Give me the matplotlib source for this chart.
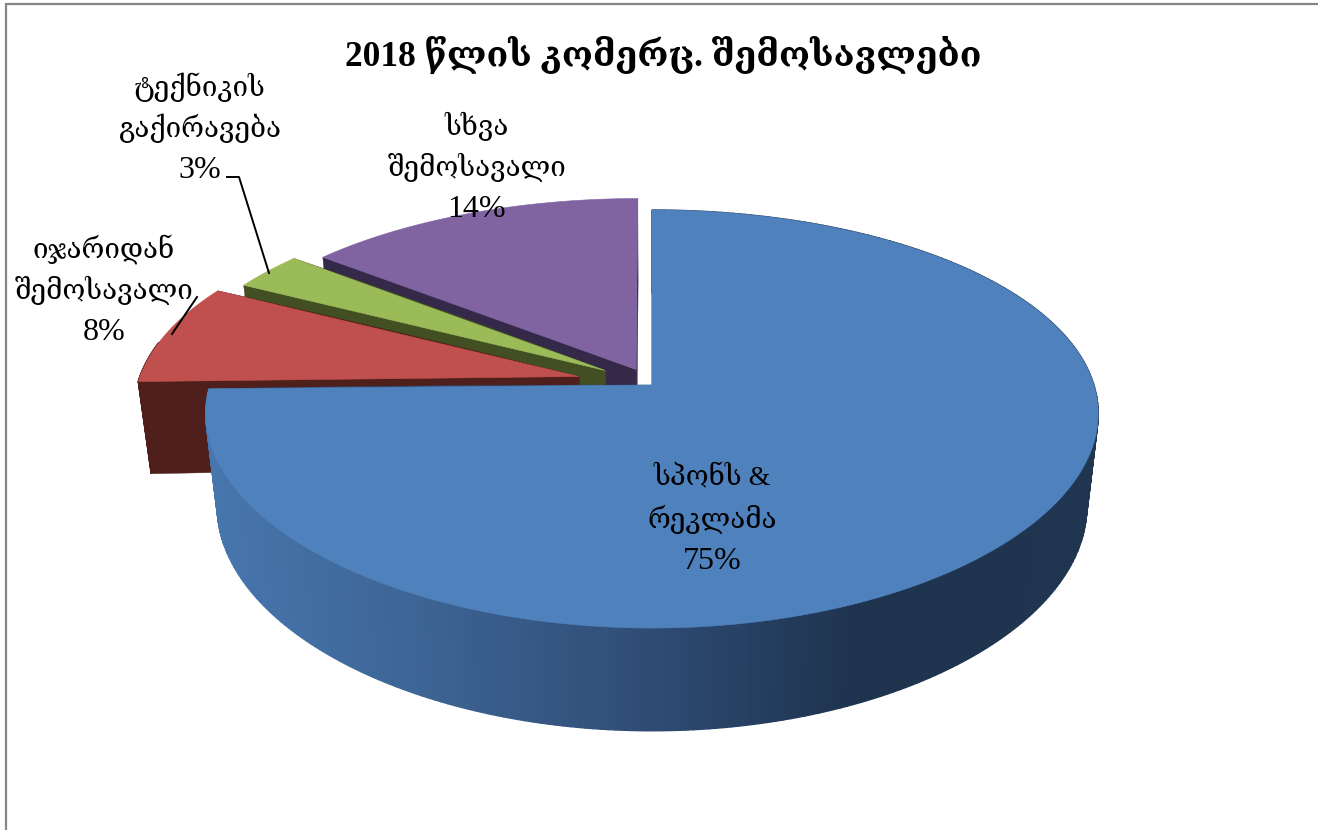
import numpy as np
import matplotlib
matplotlib.use("Agg")
import matplotlib.pyplot as plt

# chart data
categories = ["სპონს &\nრეკლამა", "იჯარიდან\nშემოსავალი", "ტექნიკის\nგაქირავება", "სხვა\nშემოსავალი"]
values = [75, 8, 3, 14]
title = "2018 წლის კომერც. შემოსავლები"

# look of the slices
top_colors = ["#4F81BD", "#C0504D", "#9BBB59", "#8064A2"]
face_colors = ["#2F4E78", "#4F1F1C", "#414F22", "#35294A"]
explode = [0.0, 0.171, 0.129, 0.085]
draw_order = [3, 2, 1, 0]

# label centres in pixels (first line y)
label_x = [712, 104, 200, 477]
label_y = [478, 249, 87, 126]
line_step = 41.5

# fake perspective of the 3d pie, in pixels
cx, cy = 652, 385
a, b = 443, 203.5
kx, ky, kz = 0.12, 0.1627, 0.026
depth = 95
sag = 3.8

fonts = ["Liberation Serif", "DejaVu Serif", "DejaVu Sans"]


def project(u, v, z=0.0):
    x = cx + a * u / (1 + kx * v + kz * z)
    y = cy + (depth * z - b * v) / (1 + ky * v + kz * z) + sag * u ** 2
    return x, y


def side_color(x):
    xs = [210, 420, 650, 860, 1090]
    rs = [0x47, 0x3D, 0x2F, 0x1E, 0x1F]
    gs = [0x76, 0x65, 0x4C, 0x33, 0x35]
    bs = [0xAE, 0x95, 0x75, 0x4E, 0x50]
    return (np.interp(x, xs, rs) / 255, np.interp(x, xs, gs) / 255, np.interp(x, xs, bs) / 255)


fig = plt.figure(figsize=(13.18, 8.30), dpi=100)
ax = fig.add_axes([0, 0, 1, 1])
ax.set_xlim(0, 1318)
ax.set_ylim(830, 0)
ax.axis("off")

# chart frame, runs off the image right and bottom
ax.plot([5.5, 5.5, 1330], [840, 4.5, 4.5], color="#868686", lw=1.6, solid_joinstyle="miter")

edges = np.cumsum([0] + values) / sum(values) * 2 * np.pi

for i in draw_order:
    t0, t1 = edges[i], edges[i + 1]
    mid = (t0 + t1) / 2
    ox, oy = explode[i] * np.sin(mid), explode[i] * np.cos(mid)
    t = np.linspace(t0, t1, 300)
    u = np.sin(t) + ox
    v = np.cos(t) + oy
    base = draw_order.index(i) * 3

    # cut faces
    for tt in [t0, t1]:
        r = np.linspace(0, 1, 30)
        ru = r * np.sin(tt) + ox
        rv = r * np.cos(tt) + oy
        xt, yt = project(ru, rv)
        xb, yb = project(ru, rv, 1)
        ax.fill(np.r_[xt, xb[::-1]], np.r_[yt, yb[::-1]], color=face_colors[i], lw=0.3, zorder=2 + base)

    # outer wall, strip by strip
    xt, yt = project(u, v)
    xb, yb = project(u, v, 1)
    for j in range(len(t) - 1):
        if np.cos(t[j]) > 0.2 and i != 0:
            continue
        c = side_color((xt[j] + xb[j]) / 2) if i == 0 else face_colors[i]
        ax.fill([xt[j], xt[j + 1], xb[j + 1], xb[j]], [yt[j], yt[j + 1], yb[j + 1], yb[j]],
                color=c, lw=1.0, zorder=3 + base)

    # top of the slice
    xa, ya = project(ox, oy)
    ax.fill(np.r_[xa, xt], np.r_[ya, yt], color=top_colors[i], lw=0.4, zorder=4 + base)

# leader lines
ax.plot([227, 239, 269], [177, 177, 273], color="black", lw=1.4, zorder=30)
ax.plot([197, 172], [297, 334], color="black", lw=1.4, zorder=30)

# labels
for name, val, lx, ly in zip(categories, values, label_x, label_y):
    for n, line in enumerate(name.split("\n")):
        ax.text(lx, ly + n * line_step, line, ha="center", va="center", fontsize=20,
                family=fonts, color="black", zorder=40)
    ax.text(lx, ly + 2 * line_step, f"{val}%", ha="center", va="center", fontsize=23,
            family=fonts, color="black", zorder=40)

ax.text(663, 55, title, ha="center", va="center", fontsize=25.5, fontweight="bold",
        family=fonts, color="black", zorder=40)

fig.savefig("out.png", dpi=100)
